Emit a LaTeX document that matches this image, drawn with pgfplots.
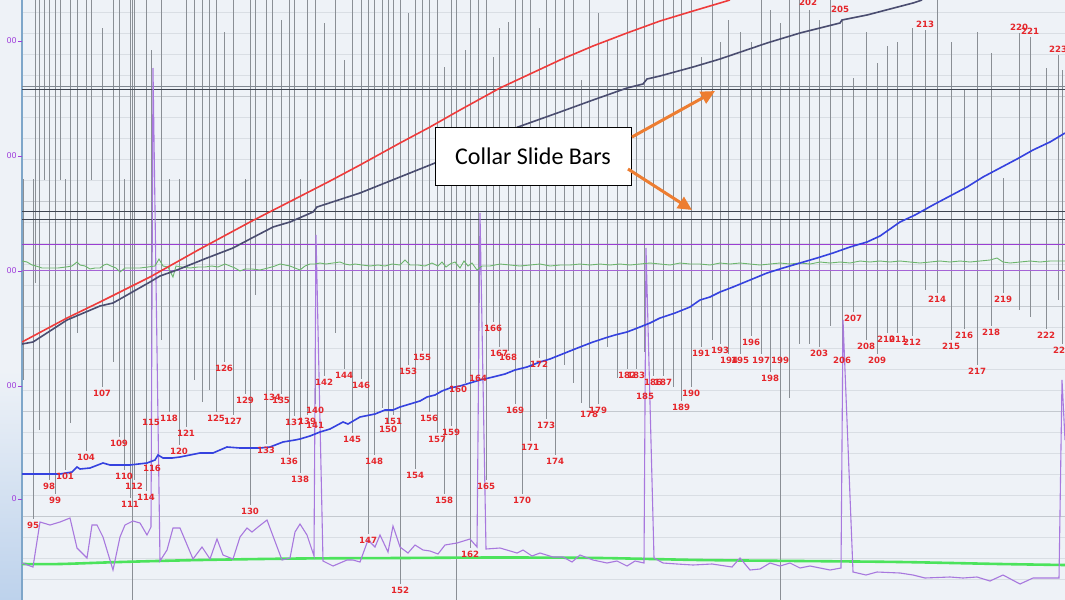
\documentclass[border=0pt]{standalone}
\usepackage{fontspec}
\usepackage{pgfplots}
\pgfplotsset{compat=1.18}
\usepackage{pgfplotstable}
\usetikzlibrary{arrows.meta}
\setmainfont{DejaVu Sans}
\newfontfamily\calloutfont{Carlito}

\definecolor{bgc}{HTML}{EEF2F7}
\definecolor{gridLight}{HTML}{D9DEE4}
\definecolor{gridDark}{HTML}{C4C9CF}
\definecolor{vgray}{HTML}{8A8F95}
\definecolor{labred}{HTML}{E5262B}
\definecolor{redline}{HTML}{EE3B3B}
\definecolor{navy}{HTML}{4A4D70}
\definecolor{blueline}{HTML}{3542DF}
\definecolor{greenthin}{HTML}{6CB56C}
\definecolor{greenthick}{HTML}{4CE35C}
\definecolor{purpleTop}{HTML}{9A3ED2}
\definecolor{purpleLow}{HTML}{A564D6}
\definecolor{purpleSeries}{HTML}{A878DE}
\definecolor{collar}{HTML}{3D4450}
\definecolor{collarLight}{HTML}{7F8790}
\definecolor{arrowc}{HTML}{ED7D31}
\definecolor{tickpurple}{HTML}{A040DC}
\definecolor{axisblue}{HTML}{7EA6C9}
\definecolor{stripblue}{HTML}{BDD2EC}

% connection markers: x position, top and bottom of each marker line
\pgfplotstableread{
x top bot
33 179 519
49 0 480
55 0 494
65 179 470
86 0 451
102 28 387
119 0 437
124 179 470
130 0 498
134 0 480
146 0 491
151 50 416
169 179 412
179 179 445
186 0 427
216 0 412
224 32 362
233 0 415
245 179 394
250 0 505
266 0 444
272 0 391
281 20 394
289 0 455
294 0 416
300 179 473
307 0 415
315 0 404
324 23 376
344 60 369
352 0 433
361 0 379
368 0 534
374 0 455
388 0 423
393 0 415
400 0 584
408 13 365
415 0 469
422 0 351
429 0 412
437 0 433
444 67 494
451 0 426
465 50 383
470 0 548
478 0 372
486 0 480
493 57 322
499 28 347
508 22 351
515 0 404
522 0 494
530 0 441
539 28 358
546 0 419
555 0 455
589 0 408
598 13 404
627 0 369
636 0 369
653 0 376
663 0 376
681 0 401
691 0 387
701 57 347
720 42 344
728 20 354
740 32 354
751 42 336
761 0 354
770 10 372
780 23 600
809 10 344
819 20 347
842 20 354
853 78 312
866 32 340
877 63 354
887 46 333
897 42 333
912 28 336
925 30 290
937 0 293
951 42 340
964 90 329
977 32 365
991 53 326
1003 178 293
1019 33 310
1030 37 317
1046 68 329
1058 55 300
1062 70 344
23 179 380
35 0 283
39 0 430
44 0 180
60 0 180
70 0 423
77 0 333
91 0 180
113 0 362
132 0 600
161 0 340
194 0 380
202 0 402
209 0 390
255 0 295
335 0 333
382 0 408
456 0 600
564 0 365
573 0 383
581 80 403
607 40 347
617 40 378
644 0 352
673 0 387
712 0 340
789 0 398
799 0 344
830 0 326
}\vlines

% connection numbers
\pgfplotstableread{
x y lab
33 525 95
49 486 98
55 500 99
65 476 101
86 457 104
102 393 107
119 443 109
124 476 110
130 504 111
134 486 112
146 497 114
151 422 115
152 468 116
169 418 118
179 451 120
186 433 121
216 418 125
224 368 126
233 421 127
245 400 129
250 511 130
266 450 133
272 397 134
281 400 135
289 461 136
294 422 137
300 479 138
307 421 139
315 410 140
315 425 141
324 382 142
344 375 144
352 439 145
361 385 146
368 540 147
374 461 148
388 429 150
393 421 151
400 590 152
408 371 153
415 475 154
422 357 155
429 418 156
437 439 157
444 500 158
451 432 159
458 389 160
470 554 162
478 378 164
486 486 165
493 328 166
499 353 167
508 357 168
515 410 169
522 500 170
530 447 171
539 364 172
546 425 173
555 461 174
589 414 178
598 410 179
627 375 182
636 375 183
645 396 185
653 382 186
663 382 187
681 407 189
691 393 190
701 353 191
720 350 193
729 360 194
740 360 195
751 342 196
761 360 197
770 378 198
780 360 199
808 2 202
819 353 203
840 9 205
842 360 206
853 318 207
866 346 208
877 360 209
886 339 210
898 339 211
912 342 212
925 24 213
937 299 214
951 346 215
964 335 216
977 371 217
991 332 218
1003 299 219
1019 27 220
1030 31 221
1046 335 222
1058 49 223
1062 350 224
}\marks

\begin{document}
\begin{tikzpicture}
% strip to the left of the depth axis
\fill[bgc] (-22bp,0) rectangle (0,600bp);
\shade[top color=bgc, bottom color=stripblue] (-22bp,0) rectangle (0,230bp);

\begin{axis}[
  at={(0,0)}, anchor=south west,
  scale only axis, width=1043bp, height=600bp,
  xmin=22, xmax=1065, ymin=0, ymax=600, y dir=reverse,
  axis background/.style={fill=bgc},
  axis x line=none, axis y line=left,
  y axis line style={-, draw=axisblue, line width=1.2bp},
  ytick={96,201,306,411,516}, yticklabels={},
  ymajorgrids, major grid style={draw=gridDark, line width=0.8bp},
  minor ytick={12,33,...,600}, yminorgrids,
  minor grid style={draw=gridLight, line width=0.7bp},
  major tick length=0pt, minor tick length=0pt,
  extra y ticks={41,156,271,386,499},
  extra y tick labels={00,00,00,00,0},
  extra y tick style={grid=none, major tick length=4bp, tick align=outside,
    tick style={draw=tickpurple, line width=0.6bp},
    yticklabel style={font=\fontsize{8bp}{9bp}\selectfont, text=tickpurple, inner sep=1bp}},
]
% marker lines
\addplot[draw=none, mark=none,
  error bars/.cd, y dir=plus, y explicit, error mark=none,
  error bar style={draw=vgray, line width=0.9bp}]
  table[x=x, y=top, y error expr=\thisrow{bot}-\thisrow{top}] {\vlines};

% collar slide bars and limit lines
\addplot[collarLight, line width=1.1bp] coordinates {(22,86.5) (1065,86.5)};
\addplot[collar, line width=1.1bp] coordinates {(22,89.5) (1065,89.5)};
\addplot[collar, line width=1.0bp] coordinates {(22,211) (1065,211)};
\addplot[collar, line width=1.0bp] coordinates {(22,219.5) (1065,219.5)};
\addplot[purpleTop, line width=1.6bp] coordinates {(22,244.5) (1065,244.5)};
\addplot[purpleLow, line width=1.2bp] coordinates {(22,270.5) (1065,270.5)};

% bottom traces
\addplot[greenthick, line width=2.6bp, smooth] coordinates {
(22,564) (60,564) (120,562) (200,560) (300,558.5) (400,558) (500,557.5)
(600,558) (700,560) (800,561) (900,562) (1000,564) (1065,565)};

\addplot[purpleSeries, line width=1.1bp] coordinates {
(22,563) (33,567) (40,522) (50,525) (60,522) (70,518) (77,548) (87,558)
(92,525) (97,525) (103,537) (113,570) (120,537) (125,525) (133,521) (140,523)
(147,535) (151,527) (153,68) (160,561) (167,550) (173,528) (180,528) (193,559)
(202,547) (210,559) (217,539) (223,555) (233,559) (240,537) (247,528) (252,532)
(258,527) (267,520) (282,560) (290,558) (295,532) (300,524) (307,535) (314,556)
(316,235) (323,561) (333,566) (347,560) (353,560) (360,562) (368,540) (375,547)
(380,535) (388,552) (393,526) (400,547) (408,553) (415,545) (423,550) (430,551)
(438,554) (445,545) (457,543) (470,539) (477,547) (480,213) (486,549) (500,548)
(517,553) (523,550) (532,556) (540,553) (553,557) (563,557) (572,562) (580,555)
(593,560) (607,563) (617,561) (627,566) (635,561) (644,563) (646,248) (654,558)
(663,563) (677,564) (693,565) (712,564) (732,567) (740,558) (750,570) (760,569)
(770,563) (780,566) (790,563) (800,568) (810,566) (830,570) (841,568) (843,320)
(853,572) (866,575) (877,572) (900,573) (913,575) (925,578) (950,577) (963,578)
(977,577) (990,581) (1003,575) (1020,584) (1033,578) (1059,578) (1062,380) (1065,440)};

% upper traces
\addplot[greenthin, line width=0.9bp] coordinates {
(22,261) (27,262) (32,265) (36,266) (42,268) (50,268) (58,268) (66,267) (72,266)
(77,262) (80,265) (85,266) (90,269) (95,268) (100,268) (104,265) (107,264)
(111,266) (116,268) (120,272) (125,268) (133,268) (140,268) (148,267) (155,266)
(159,259) (163,266) (168,267) (173,277) (176,266) (182,267) (190,268) (198,267)
(205,267) (212,266) (218,267) (225,264) (230,266) (235,268) (240,271) (245,269)
(252,269) (260,270) (268,268) (275,266) (280,264) (285,265) (290,266) (295,268)
(300,270) (305,266) (310,264) (315,264) (320,263) (326,264) (333,263) (340,262)
(345,264) (350,265) (355,264) (362,265) (370,266) (378,265) (385,266) (392,264)
(400,265) (405,260) (410,265) (418,265) (425,266) (432,263) (438,266) (442,262)
(446,267) (450,264) (455,262) (460,268) (464,261) (468,266) (472,263) (477,270)
(482,266) (490,266) (500,264) (510,265) (520,266) (530,265) (540,264) (550,266)
(560,265) (570,265) (580,264) (590,265) (600,264) (610,265) (620,264) (630,265)
(640,264) (650,263) (660,264) (670,265) (680,263) (690,264) (700,264) (710,265)
(720,263) (730,264) (740,263) (750,264) (760,265) (770,264) (780,263) (790,264)
(800,263) (810,264) (820,262) (830,263) (840,262) (850,263) (860,261) (870,262)
(880,261) (890,262) (900,261) (910,262) (920,263) (930,262) (940,261) (950,262)
(960,261) (970,262) (980,261) (990,260) (997,258) (1003,262) (1010,263) (1020,262)
(1030,261) (1040,262) (1050,261) (1065,261)};

\addplot[blueline, line width=1.6bp] coordinates {
(22,474) (40,474) (60,474) (72,472) (77,467) (80,469) (90,468) (103,463) (110,465)
(117,465) (130,465) (147,463) (155,460) (158,455) (163,458) (172,458) (180,457)
(190,455) (200,453) (213,453) (220,450) (227,447) (240,448) (260,448) (270,447)
(283,442) (295,440) (300,439) (310,436) (320,432) (330,429) (343,422) (348,424)
(360,417) (375,414) (385,410) (393,410) (400,407) (410,404) (420,401) (427,397)
(435,395) (442,391) (450,388) (460,386) (470,383) (480,380) (493,377) (505,374)
(515,370) (527,367) (540,362) (550,359) (560,355) (570,351) (580,347) (593,342)
(605,338) (615,335) (627,332) (640,327) (650,323) (660,318) (675,313) (690,307)
(700,300) (710,297) (720,292) (733,287) (750,280) (767,273) (783,268) (800,263)
(817,258) (833,253) (850,247) (867,242) (880,236) (890,229) (900,222) (915,215)
(933,205) (950,196) (967,187) (983,177) (1000,168) (1017,159) (1033,150)
(1050,142) (1065,133)};

\addplot[navy, line width=1.6bp] coordinates {
(22,344) (33,342) (67,320) (100,306) (113,303) (150,282) (160,276) (177,270)
(207,258) (233,248) (250,239) (273,227) (290,222) (313,212) (317,207) (360,193)
(435,163) (518,127) (560,112) (593,100) (627,88) (643,84) (647,79) (660,76)
(693,67) (720,59) (767,43) (800,33) (840,23) (842,20) (867,15) (913,3) (922,0)};

\addplot[redline, line width=1.6bp] coordinates {
(22,342) (67,318) (100,302) (150,277) (200,249) (250,222) (293,200) (330,181)
(360,165) (400,143) (430,127) (460,110) (500,88) (530,74) (560,60) (593,46)
(627,33) (660,21) (693,11) (720,3) (730,0)};

% connection numbers
\addplot[draw=none, mark=none, nodes near coords, point meta=explicit symbolic,
  every node near coord/.append style={anchor=center, inner sep=0pt, text=labred,
    font=\fontsize{8.6bp}{9bp}\selectfont\bfseries}]
  table[x=x, y=y, meta=lab] {\marks};

% callout
\node[draw=black, fill=white, line width=0.9bp, minimum width=196bp,
  minimum height=58bp, inner sep=0pt,
  font=\calloutfont\fontsize{24bp}{28bp}\selectfont] at (axis cs:533,156) {Collar Slide Bars};
\draw[arrowc, line width=3bp, -{Triangle[length=14bp,width=13bp]}]
  (axis cs:632,137) -- (axis cs:715,91);
\draw[arrowc, line width=3bp, -{Triangle[length=14bp,width=13bp]}]
  (axis cs:628,169) -- (axis cs:692,210);
\end{axis}
\pgfresetboundingbox
\useasboundingbox (-22bp,0) rectangle (1043bp,600bp);
\end{tikzpicture}
\end{document}
